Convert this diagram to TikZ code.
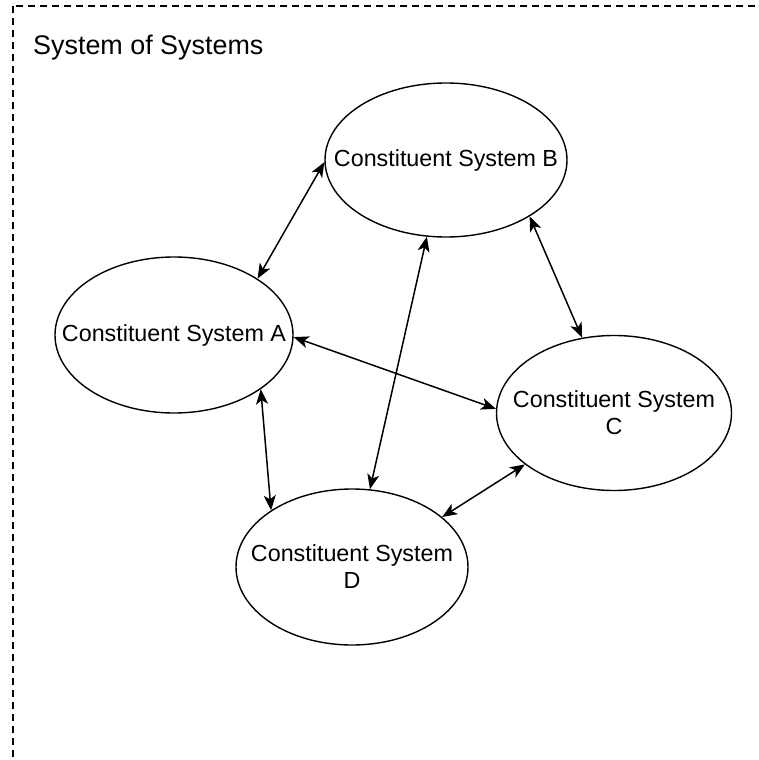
\documentclass[tikz,border=0pt]{standalone}
\usepackage{fontspec}
\setmainfont{Liberation Sans}
\usetikzlibrary{shapes.geometric,arrows.meta}
\begin{document}
\begin{tikzpicture}[x=1pt,y=-1pt,
  system/.style={ellipse,draw,line width=1.4pt,inner sep=0pt},
  syslabel/.style={align=center,inner sep=0pt,font=\fontsize{23.3}{27}\selectfont},
  tip/.style={Stealth[length=15pt,width=12pt,inset=4pt]},
  link/.style={line width=1.5pt,{Stealth[length=15pt,width=12pt,inset=4pt]}-{Stealth[length=15pt,width=12pt,inset=4pt]}},
  frame/.style={draw,line width=1.3pt,dash pattern=on 7pt off 5pt}]
  \clip (0,0) rectangle (758,760);
  % outer system-of-systems boundary (runs past the page on right and bottom)
  \draw[frame] (13,6) rectangle (790,800);
  \node[anchor=base west,inner sep=0pt,font=\fontsize{26.9}{30}\selectfont]
    (title) at (33,55) {System of Systems};
  % constituent systems
  \node[system,minimum width=242pt,minimum height=154pt,
    label={[syslabel]center:Constituent System B}] (B) at (446,160) {};
  \node[system,minimum width=238pt,minimum height=156pt,
    label={[syslabel]center:Constituent System A}] (A) at (174,335) {};
  \node[system,minimum width=235pt,minimum height=155pt,
    label={[syslabel]center:Constituent System\\C}] (C) at (614,413) {};
  \node[system,minimum width=232pt,minimum height=156pt,
    label={[syslabel]center:Constituent System\\D}] (D) at (352,567) {};
  % interfaces
  \draw[link] (A.34.7) -- (B.181.9);
  \draw[link] (B.-34.6) -- (C.113.6);
  \draw[link] (A.-1.4) -- (C.178.5);
  \draw[link] (B.256.3) -- (D.77);
  \draw[link] (A.-32.9) -- (D.145.2);
  \draw[link] (C.210.3) -- (D.29.6);
\end{tikzpicture}
\end{document}
